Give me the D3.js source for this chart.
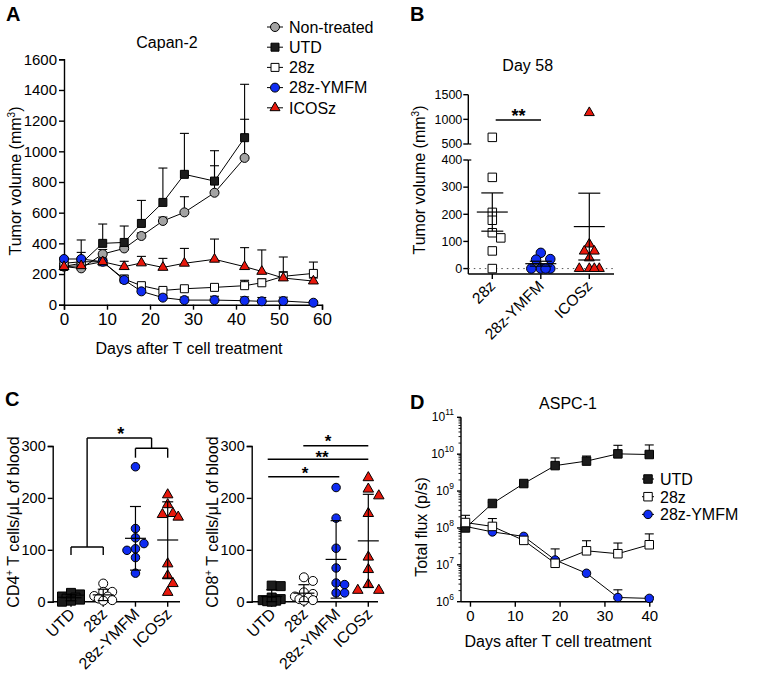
<!DOCTYPE html>
<html><head><meta charset="utf-8">
<script src="https://cdn.jsdelivr.net/npm/d3@7"></script>
<style>
body{margin:0;background:#fff;}
svg{font-family:"Liberation Sans",Arial,sans-serif;}
</style></head>
<body><svg id="c" width="757" height="686"></svg>
<script>
// ---------- DATA ----------
// Panel A: Capan-2 tumor volume (mean, upper SEM)
const daysA = [0,4,9,14,18,23,28,35,42,46,51,58];
const seriesA = ["Non-treated","UTD","28z","28z-YMFM","ICOSz"];
const aNonTreated = [248,237,330,367,448,546,602,730,957];
const aNonTreatedErr = [20,104,30,10,20,25,102,176,252];
const aUTD = [250,270,400,406,530,667,850,806,1089];
const aUTDErr = [20,152,126,107,150,224,267,198,348];
const a28z = [270,280,280,167,124,93,104,113,124,143,185,204];
const a28zErr = [10,10,10,25,15,10,10,15,35,25,30,74];
const aYMFM = [298,298,280,161,87,46,30,30,26,22,24,13];
const aYMFMErr = [10,10,10,15,10,15,20,25,25,25,25,8];
const aICOS = [248,254,280,248,272,243,270,296,248,217,174,154];
const aICOSErr = [10,10,10,35,43,59,97,132,124,140,137,20];
const ticksAY = [0,200,400,600,800,1000,1200,1400,1600];
const ticksAX = [0,10,20,30,40,50,60];

// Panel B: Day 58 individual tumor volumes
const catsB = ["28z","28z-YMFM","ICOSz"];
const b28z = [635,336,207,178,132,113,65,0];
const bYMFM = [58,35,33,0,0,0,0];
const bICOS = [1135,90,64,64,39,0,0,0,0];
const ticksBLow = [0,100,200,300,400];
const ticksBHigh = [500,1000,1500];

// Panel C: T cells per uL blood
const catsC = ["UTD","28z","28z-YMFM","ICOSz"];
const cd4UTD = [17,14,10,8,6,4,2,0];
const cd428z = [35,19,19,11,10,6,3,2];
const cd4YMFM = [260,141,123,112,102,99,85,55];
const cd4ICOS = [206,187,170,168,163,73,50,35,18];
const cd8UTD = [31,30,8,5,3,2,1,0];
const cd828z = [47,40,18,15,10,8,5,3,2];
const cd8YMFM = [220,161,103,65,36,33,17,17];
const cd8ICOS = [239,217,204,170,86,62,33,22,22];
const ticksC = [0,100,200,300];

// Panel D: ASPC-1 total flux (mean, upper error)
const daysD = [-1,5,12,19,26,33,40];
const seriesD = ["UTD","28z","28z-YMFM"];
const dUTD = [1.0e8,4.6e8,1.6e9,4.9e9,6.5e9,1.02e10,9.8e9];
const dUTDUp = [1.1e8,5.0e8,1.7e9,7.9e9,8.9e9,1.74e10,1.78e10];
const d28z = [1.4e8,1.1e8,4.6e7,1.1e7,2.4e7,2.0e7,3.5e7];
const d28zUp = [2.2e8,1.8e8,5.0e7,2.7e7,4.5e7,3.9e7,6.9e7];
const dYMFM = [1.1e8,7.8e7,5.9e7,1.35e7,5.9e6,1.3e6,1.23e6];
const dYMFMUp = [1.2e8,8.0e7,6.0e7,1.5e7,6.0e6,2.1e6,1.35e6];
const ticksDY = [6,7,8,9,10,11];
const ticksDX = [0,10,20,30,40];

// ---------- STYLE ----------
const BLUE="#0f2cf2", RED="#e8180c", GRAY="#a3a3a3", BLK="#1c1c1c";
const sty = {
  circleGray:{type:d3.symbolCircle, fill:GRAY},
  squareBlack:{type:d3.symbolSquare, fill:BLK},
  squareWhite:{type:d3.symbolSquare, fill:"#fff"},
  circleBlue:{type:d3.symbolCircle, fill:BLUE},
  triRed:{type:d3.symbolTriangle, fill:RED},
  circleWhite:{type:d3.symbolCircle, fill:"#fff"}
};
function symArea(type, d){
  if(type===d3.symbolCircle) return Math.PI*d*d/4;
  if(type===d3.symbolSquare) return d*d;
  return d*d*Math.sqrt(3)/4;
}
function mark(g,s,x,y,d){
  g.append("path").attr("d",d3.symbol().type(s.type).size(symArea(s.type,d))())
   .attr("transform",`translate(${x},${y})`).attr("fill",s.fill)
   .attr("stroke","#000").attr("stroke-width",1);
}
const svg = d3.select("#c");
function txt(x,y,t,size,opts={}){
  const e = svg.append("text").attr("x",x).attr("y",y).attr("font-size",size)
    .attr("text-anchor",opts.anchor||"middle").attr("fill","#000").text(t);
  if(opts.bold) e.attr("font-weight","bold");
  return e;
}
function styleAxis(g,fs){
  g.selectAll("path.domain").attr("stroke","#000").attr("stroke-width",1.4);
  g.selectAll(".tick line").attr("stroke","#000").attr("stroke-width",1.4);
  g.selectAll(".tick text").attr("font-size",fs).attr("fill","#000")
   .attr("font-family","'Liberation Sans',Arial,sans-serif");
}
function rotLabel(x,y,t,size){
  svg.append("text").attr("transform",`translate(${x},${y}) rotate(-90)`)
   .attr("text-anchor","middle").attr("font-size",size).text(t);
}

// ---------- PANEL A ----------
{
  const x = d3.scaleLinear().domain([0,60]).range([64,322]);
  const y = d3.scaleLinear().domain([0,1600]).range([304.7,59.3]);
  const gx = svg.append("g").attr("transform","translate(0,304.7)")
    .call(d3.axisBottom(x).tickValues(ticksAX).tickFormat(d3.format("d")).tickSize(5).tickPadding(3));
  styleAxis(gx,17);
  const gy = svg.append("g").attr("transform","translate(64,0)")
    .call(d3.axisLeft(y).tickValues(ticksAY).tickFormat(d3.format("d")).tickSize(5).tickPadding(2));
  styleAxis(gy,15);
  const ser = [
    {v:aNonTreated,e:aNonTreatedErr,s:sty.circleGray,d:9},
    {v:aUTD,e:aUTDErr,s:sty.squareBlack,d:8},
    {v:a28z,e:a28zErr,s:sty.squareWhite,d:8},
    {v:aYMFM,e:aYMFMErr,s:sty.circleBlue,d:9},
    {v:aICOS,e:aICOSErr,s:sty.triRed,d:10}
  ];
  const g = svg.append("g");
  const line = d3.line().x((d,i)=>x(daysA[i])).y(d=>y(d));
  ser.forEach(S=>{
    S.v.forEach((v,i)=>{
      const x0=x(daysA[i]), y0=y(v), y1=y(v+S.e[i]);
      g.append("line").attr("x1",x0).attr("x2",x0).attr("y1",y0).attr("y2",y1).attr("stroke","#000").attr("stroke-width",1.1);
      g.append("line").attr("x1",x0-4.5).attr("x2",x0+4.5).attr("y1",y1).attr("y2",y1).attr("stroke","#000").attr("stroke-width",1.1);
    });
  });
  ser.forEach(S=>{
    g.append("path").attr("d",line(S.v)).attr("fill","none").attr("stroke","#000").attr("stroke-width",1);
  });
  ser.forEach(S=>{ S.v.forEach((v,i)=>mark(g,S.s,x(daysA[i]),y(v),S.d)); });
  seriesA.forEach((name,i)=>{
    const ly = 27 + i*20.2;
    svg.append("line").attr("x1",267).attr("x2",283).attr("y1",ly).attr("y2",ly).attr("stroke","#000").attr("stroke-width",1);
    mark(svg,ser[i].s,275,ly,ser[i].d);
    txt(289,ly+5.8,name,16,{anchor:"start"});
  });
  txt(167,48,"Capan-2",16);
  txt(6,21,"A",20,{anchor:"start",bold:true});
  const yl = svg.append("text").attr("transform","translate(21,181) rotate(-90)")
    .attr("text-anchor","middle").attr("font-size",16);
  yl.append("tspan").text("Tumor volume (mm");
  yl.append("tspan").text("3").attr("font-size",10).attr("dy",-6);
  yl.append("tspan").text(")").attr("dy",6);
  txt(189,354,"Days after T cell treatment",16);
}

// ---------- beeswarm helper (bounded, partly overlapping dodge) ----------
function dodge(vals, yScale, d){
  const thr=d*0.85, step=d*0.5, maxOff=d*1.3;
  const cands=[0]; for(let j=1;j*step<=maxOff;j++){cands.push(j*step,-j*step);}
  const placed=[]; const out=[];
  vals.forEach(v=>{
    const py=yScale(v);
    let best=null, bestD=-1;
    for(const c of cands){
      const md = placed.length? d3.min(placed,p=>Math.hypot(p.x-c,p.y-py)) : Infinity;
      if(md>=thr){best=c;break;}
      if(md>bestD){bestD=md;best=c;}
    }
    placed.push({x:best,y:py}); out.push({v,off:best,py});
  });
  return out;
}
function meanSd(a,sem){
  const m=d3.mean(a), s=d3.deviation(a);
  return {m, e: sem? s/Math.sqrt(a.length) : s};
}

// ---------- PANEL B ----------
{
  const xb = d3.scalePoint().domain(catsB).range([492.3,589.3]);
  const yb = d3.scaleLinear().domain([-20,400,500,1500]).range([274,160,144,94.7]);
  const ax = 468.3;
  svg.append("line").attr("x1",ax).attr("x2",ax).attr("y1",274).attr("y2",160).attr("stroke","#000").attr("stroke-width",1.4);
  svg.append("line").attr("x1",ax).attr("x2",ax).attr("y1",144).attr("y2",94.7).attr("stroke","#000").attr("stroke-width",1.4);
  svg.append("line").attr("x1",ax).attr("x2",ax+3).attr("y1",144).attr("y2",144).attr("stroke","#000").attr("stroke-width",1.2);
  svg.append("line").attr("x1",ax).attr("x2",ax+3).attr("y1",160).attr("y2",160).attr("stroke","#000").attr("stroke-width",1.2);
  ticksBLow.concat(ticksBHigh).forEach(t=>{
    svg.append("line").attr("x1",ax-5).attr("x2",ax).attr("y1",yb(t)).attr("y2",yb(t)).attr("stroke","#000").attr("stroke-width",1.4);
    txt(ax-6,yb(t)+4.3,String(t),12.5,{anchor:"end"});
  });
  svg.append("line").attr("x1",ax).attr("x2",614).attr("y1",274).attr("y2",274).attr("stroke","#000").attr("stroke-width",1.4);
  svg.append("line").attr("x1",ax).attr("x2",614).attr("y1",yb(0)).attr("y2",yb(0)).attr("stroke","#555").attr("stroke-width",1).attr("stroke-dasharray","1.5,4");
  catsB.forEach(c=>{
    svg.append("line").attr("x1",xb(c)).attr("x2",xb(c)).attr("y1",274).attr("y2",279).attr("stroke","#000").attr("stroke-width",1.4);
    svg.append("text").attr("transform",`translate(${xb(c)+4},${287}) rotate(-45)`)
      .attr("text-anchor","end").attr("font-size",15.5).text(c);
  });
  const groups=[{c:"28z",v:b28z,s:sty.squareWhite,d:8.5},{c:"28z-YMFM",v:bYMFM,s:sty.circleBlue,d:9.5},{c:"ICOSz",v:bICOS,s:sty.triRed,d:10}];
  const g=svg.append("g");
  groups.forEach(G=>{
    const cx=xb(G.c);
    const {m,e}=meanSd(G.v,true);
    dodge(G.v,yb,G.d).forEach(p=>mark(g,G.s,cx+p.off,p.py,G.d));
    g.append("line").attr("x1",cx-15.5).attr("x2",cx+15.5).attr("y1",yb(m)).attr("y2",yb(m)).attr("stroke","#000").attr("stroke-width",1.2);
    g.append("line").attr("x1",cx).attr("x2",cx).attr("y1",yb(m-e)).attr("y2",yb(m+e)).attr("stroke","#000").attr("stroke-width",1.2);
    [m-e,m+e].forEach(t=>g.append("line").attr("x1",cx-11).attr("x2",cx+11).attr("y1",yb(t)).attr("y2",yb(t)).attr("stroke","#000").attr("stroke-width",1.2));
  });
  svg.append("line").attr("x1",495.7).attr("x2",541).attr("y1",120).attr("y2",120).attr("stroke","#000").attr("stroke-width",1.3);
  txt(518.5,122,"**",18,{bold:true});
  txt(527.7,71,"Day 58",16);
  txt(410,21,"B",20,{anchor:"start",bold:true});
  const yl = svg.append("text").attr("transform","translate(425,180) rotate(-90)")
    .attr("text-anchor","middle").attr("font-size",16);
  yl.append("tspan").text("Tumor volume (mm");
  yl.append("tspan").text("3").attr("font-size",10).attr("dy",-6);
  yl.append("tspan").text(")").attr("dy",6);
}

// ---------- PANEL C ----------
function panelC(ax, xEnd, pos, data, label){
  const xc = d3.scalePoint().domain(catsC).range(pos);
  const yc = d3.scaleLinear().domain([0,300]).range([601.7,446]);
  const gy = svg.append("g").attr("transform",`translate(${ax},0)`)
    .call(d3.axisLeft(yc).tickValues(ticksC).tickSize(5).tickPadding(2));
  styleAxis(gy,14.5);
  svg.append("line").attr("x1",ax).attr("x2",xEnd).attr("y1",601.7).attr("y2",601.7).attr("stroke","#000").attr("stroke-width",1.4);
  catsC.forEach(c=>{
    svg.append("line").attr("x1",xc(c)).attr("x2",xc(c)).attr("y1",601.7).attr("y2",606.7).attr("stroke","#000").attr("stroke-width",1.4);
    svg.append("text").attr("transform",`translate(${xc(c)+5},${615}) rotate(-45)`)
      .attr("text-anchor","end").attr("font-size",16).text(c);
  });
  const st=[sty.squareBlack,sty.circleWhite,sty.circleBlue,sty.triRed];
  const ds=[9,9,8.5,10.5];
  const g=svg.append("g");
  catsC.forEach((c,i)=>{
    const cx=xc(c); const v=data[i];
    const {m,e}=meanSd(v,false);
    dodge(v,yc,ds[i]).forEach(p=>mark(g,st[i],cx+p.off,p.py,ds[i]));
    g.append("line").attr("x1",cx-10.5).attr("x2",cx+10.5).attr("y1",yc(m)).attr("y2",yc(m)).attr("stroke","#000").attr("stroke-width",1.2);
    g.append("line").attr("x1",cx).attr("x2",cx).attr("y1",yc(Math.max(0,m-e))).attr("y2",yc(m+e)).attr("stroke","#000").attr("stroke-width",1.2);
    [Math.max(0,m-e),m+e].forEach(t=>g.append("line").attr("x1",cx-5.5).attr("x2",cx+5.5).attr("y1",yc(t)).attr("y2",yc(t)).attr("stroke","#000").attr("stroke-width",1.2));
  });
  const yl = svg.append("text").attr("transform",`translate(${label.x},522) rotate(-90)`)
    .attr("text-anchor","middle").attr("font-size",16);
  yl.append("tspan").text(label.t);
  yl.append("tspan").text("+").attr("font-size",10).attr("dy",-6);
  yl.append("tspan").text(" T cells/μL of blood").attr("dy",6);
  return xc;
}
{
  const xl = panelC(52.7,180,[71,167.7],[cd4UTD,cd428z,cd4YMFM,cd4ICOS],{x:19,t:"CD4"});
  const L=(x1,y1,x2,y2)=>svg.append("line").attr("x1",x1).attr("x2",x2).attr("y1",y1).attr("y2",y2).attr("stroke","#000").attr("stroke-width",1.4);
  const a=xl("UTD"), b=xl("28z"), c=xl("28z-YMFM"), d=xl("ICOSz");
  L(a,555,a,547); L(a,547,b,547); L(b,547,b,555);
  L((a+b)/2,547,(a+b)/2,438); L((a+b)/2,438,(c+d)/2,438);
  L((c+d)/2,438,(c+d)/2,448.3); L(c,448.3,d,448.3); L(c,448.3,c,457.7); L(d,448.3,d,457.7);
  txt(120.7,439.5,"*",18,{bold:true});
  txt(5,406,"C",20,{anchor:"start",bold:true});

  const xr = panelC(251.7,378,[271.7,368.3],[cd8UTD,cd828z,cd8YMFM,cd8ICOS],{x:218,t:"CD8"});
  L(303.3,445.7,xr("ICOSz"),445.7); txt(328,447,"*",17,{bold:true});
  L(xr("UTD")-4,459.3,xr("ICOSz"),459.3); txt(322,463,"**",17,{bold:true});
  L(xr("UTD")-3.5,476.7,339.3,476.7); txt(305,479,"*",17,{bold:true});
}

// ---------- PANEL D ----------
{
  const xd = d3.scaleLinear().domain([-2,40.5]).range([461,651.5]);
  const yd = d3.scaleLog().domain([1e6,1e11]).range([601.7,417.3]);
  const ax=461;
  svg.append("line").attr("x1",ax).attr("x2",ax).attr("y1",601.7).attr("y2",417.3).attr("stroke","#000").attr("stroke-width",1.4);
  ticksDY.slice(0,-1).forEach(p=>{
    for(let k=2;k<=9;k++){
      const yy=yd(k*Math.pow(10,p));
      svg.append("line").attr("x1",ax-2.5).attr("x2",ax).attr("y1",yy).attr("y2",yy).attr("stroke","#000").attr("stroke-width",0.9);
    }
  });
  ticksDY.forEach(p=>{
    const yy=yd(Math.pow(10,p));
    svg.append("line").attr("x1",ax-4).attr("x2",ax).attr("y1",yy).attr("y2",yy).attr("stroke","#000").attr("stroke-width",1.4);
    const t=svg.append("text").attr("x",ax-7).attr("y",yy+4).attr("text-anchor","end").attr("font-size",12);
    t.append("tspan").text("10");
    t.append("tspan").text(String(p)).attr("font-size",8.5).attr("dy",-6);
  });
  const gx = svg.append("g").attr("transform","translate(0,601.7)")
    .call(d3.axisBottom(xd).tickValues(ticksDX).tickSize(5).tickPadding(4));
  styleAxis(gx,15);
  gx.select("path.domain").attr("d",`M${ax},0H653`);
  const ser=[{v:dUTD,u:dUTDUp,s:sty.squareBlack,d:8.5},{v:d28z,u:d28zUp,s:sty.squareWhite,d:8.5},{v:dYMFM,u:dYMFMUp,s:sty.circleBlue,d:8.5}];
  const g=svg.append("g");
  const line=d3.line().x((d,i)=>xd(daysD[i])).y(d=>yd(d));
  ser.forEach(S=>S.v.forEach((v,i)=>{
    const x0=xd(daysD[i]), y0=yd(v), y1=yd(S.u[i]);
    if(S.u[i]>v*1.05){
      g.append("line").attr("x1",x0).attr("x2",x0).attr("y1",y0).attr("y2",y1).attr("stroke","#000").attr("stroke-width",1.1);
      g.append("line").attr("x1",x0-4.5).attr("x2",x0+4.5).attr("y1",y1).attr("y2",y1).attr("stroke","#000").attr("stroke-width",1.1);
    }
  }));
  ser.forEach(S=>g.append("path").attr("d",line(S.v)).attr("fill","none").attr("stroke","#000").attr("stroke-width",1));
  [ser[2],ser[0],ser[1]].forEach(S=>S.v.forEach((v,i)=>mark(g,S.s,xd(daysD[i]),yd(v),S.d)));
  seriesD.forEach((n,i)=>{
    const ly=479+i*17.7;
    svg.append("line").attr("x1",642).attr("x2",654).attr("y1",ly).attr("y2",ly).attr("stroke","#000").attr("stroke-width",1);
    mark(svg,ser[i].s,648,ly,8.5);
    txt(660,ly+5.8,n,16,{anchor:"start"});
  });
  txt(568,409,"ASPC-1",16);
  txt(410,409,"D",20,{anchor:"start",bold:true});
  rotLabel(427,527,"Total flux (p/s)",16);
  txt(558,647,"Days after T cell treatment",16);
}
</script></body></html>
